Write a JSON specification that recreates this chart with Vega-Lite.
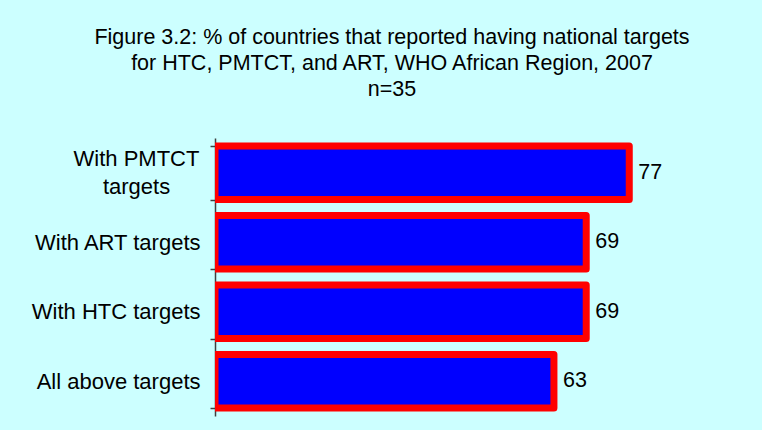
{
  "$schema": "https://vega.github.io/schema/vega-lite/v6.json",
  "width": 538,
  "height": 278,
  "autosize": {"type": "none"},
  "padding": {"left": 215, "top": 138, "right": 9, "bottom": 14},
  "background": "#CCFFFF",
  "title": {
    "text": ["Figure 3.2: % of countries that reported having national targets", "for HTC, PMTCT, and ART, WHO African Region, 2007", "n=35"],
    "font": "Liberation Sans",
    "fontSize": 21.5,
    "fontWeight": "normal",
    "color": "#000000",
    "lineHeight": 26,
    "anchor": "middle",
    "frame": "group",
    "dx": -92,
    "offset": 27
  },
  "data": {
    "values": [
      {"category": "With PMTCT targets", "value": 77},
      {"category": "With ART targets", "value": 69},
      {"category": "With HTC targets", "value": 69},
      {"category": "All above targets", "value": 63}
    ]
  },
  "encoding": {
    "y": {
      "field": "category",
      "type": "nominal",
      "sort": null,
      "scale": {"paddingInner": 0.23, "paddingOuter": 0.115},
      "axis": {
        "title": null,
        "labelFont": "Liberation Sans",
        "labelFontSize": 22,
        "labelColor": "#000000",
        "labelPadding": {"condition": {"test": "datum.value == 'With PMTCT targets'", "value": 74}, "value": 10},
        "labelAlign": {"condition": {"test": "datum.value == 'With PMTCT targets'", "value": "center"}, "value": "right"},
        "labelLineHeight": 28,
        "labelLimit": 300,
        "labelExpr": "datum.label == 'With PMTCT targets' ? ['With PMTCT', 'targets'] : datum.label",
        "labelOffset": {"condition": {"test": "datum.value == 'With PMTCT targets'", "value": -14}, "value": 0},
        "tickBand": "extent",
        "tickSize": 5,
        "tickColor": "#404040",
        "domainColor": "#404040",
        "tickWidth": 1.5,
        "domainWidth": 1.5
      }
    },
    "x": {
      "field": "value",
      "type": "quantitative",
      "scale": {"domain": [0, 100]},
      "axis": null
    }
  },
  "layer": [
    {
      "mark": {"type": "bar", "fill": "#0000FF", "stroke": "#FF0000", "strokeWidth": 7, "strokeJoin": "round", "clip": true}
    },
    {
      "mark": {"type": "text", "align": "left", "baseline": "middle", "dx": 9, "font": "Liberation Sans", "fontSize": 21.5, "color": "#000000"},
      "encoding": {"text": {"field": "value", "type": "quantitative"}}
    }
  ],
  "config": {"view": {"stroke": null}}
}
